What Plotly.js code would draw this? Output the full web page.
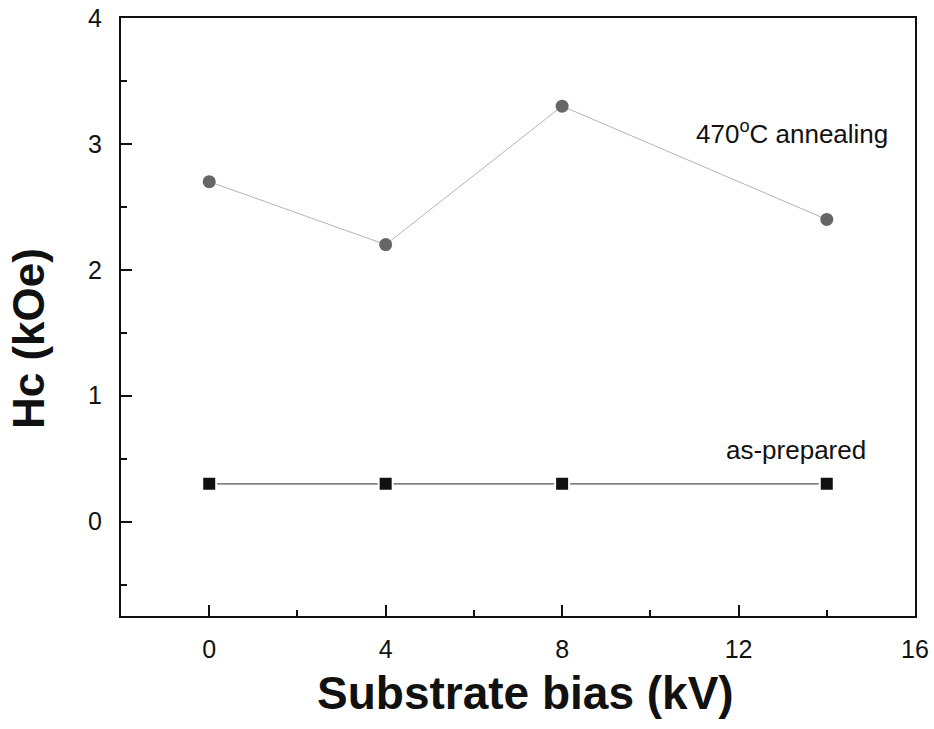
<!DOCTYPE html>
<html>
<head>
<meta charset="utf-8">
<script src="https://cdn.plot.ly/plotly-3.0.1.min.js"></script>
<style>html,body{margin:0;padding:0;background:#fff;}#chart{width:934px;height:729px;}</style>
</head>
<body>
<div id="chart"></div>
<script>
var biasKV = [0, 4, 8, 14];
var hcAnnealed = [2.7, 2.2, 3.3, 2.4];
var hcPrepared = [0.3, 0.3, 0.3, 0.3];
var xTicks = [0, 4, 8, 12, 16];
var yTicks = [0, 1, 2, 3, 4];

var font = "Liberation Sans, Arial, sans-serif";

var traces = [
  {x: biasKV, y: hcAnnealed, mode: "lines+markers", type: "scatter",
   line: {color: "#b5b5b5", width: 1},
   marker: {symbol: "circle", size: 13, color: "#666666", line: {color: "#fff", width: 0}}},
  {x: biasKV, y: hcPrepared, mode: "lines+markers", type: "scatter",
   line: {color: "#555555", width: 1.3},
   marker: {symbol: "square", size: 14, color: "#111111", line: {color: "#fff", width: 2}}}
];

var layout = {
  width: 934, height: 729,
  margin: {l: 121, r: 19, t: 18, b: 113},
  paper_bgcolor: "#fff", plot_bgcolor: "#fff",
  showlegend: false,
  font: {family: font, color: "#111"},
  xaxis: {
    range: [-2, 16], tickvals: xTicks, ticktext: xTicks.map(String),
    ticks: "inside", ticklen: 11, tickwidth: 1.5, tickcolor: "#111",
    minor: {dtick: 2, tick0: 0, ticks: "inside", ticklen: 6, tickwidth: 1.5, tickcolor: "#111"},
    showline: true, linecolor: "#111", linewidth: 2, mirror: true,
    showgrid: false, zeroline: false,
    tickfont: {size: 25, family: font, color: "#111"},
    ticklabelstandoff: 10
  },
  yaxis: {
    range: [-0.75, 4], tickvals: yTicks, ticktext: yTicks.map(String),
    ticks: "inside", ticklen: 11, tickwidth: 1.5, tickcolor: "#111",
    minor: {dtick: 0.5, tick0: 0, ticks: "inside", ticklen: 6, tickwidth: 1.5, tickcolor: "#111"},
    showline: true, linecolor: "#111", linewidth: 2, mirror: true,
    showgrid: false, zeroline: false,
    tickfont: {size: 25, family: font, color: "#111"},
    ticklabelstandoff: 12
  },
  annotations: [
    {x: 792, y: 132, text: "470<sup>o</sup>C annealing", showarrow: false,
     font: {size: 26, family: font, color: "#111"}, xanchor: "center", yanchor: "middle"},
    {x: 796, y: 450, text: "as-prepared", showarrow: false,
     font: {size: 26, family: font, color: "#111"}, xanchor: "center", yanchor: "middle"},
    {x: 525, y: 693, text: "<b>Substrate bias (kV)</b>", showarrow: false,
     font: {size: 46, family: font, color: "#111"}, xanchor: "center", yanchor: "middle"},
    {x: 28, y: 339, text: "<b>Hc (kOe)</b>", showarrow: false, textangle: -90,
     font: {size: 44, family: font, color: "#111"}, xanchor: "center", yanchor: "middle"}
  ]
};
var plotW = 934 - 121 - 19, plotH = 729 - 18 - 113;
layout.annotations.forEach(function(a){
  a.xref = "paper"; a.yref = "paper";
  a.x = (a.x - 121) / plotW;
  a.y = 1 - (a.y - 18) / plotH;
});
Plotly.newPlot("chart", traces, layout, {displayModeBar: false});
</script>
</body>
</html>
